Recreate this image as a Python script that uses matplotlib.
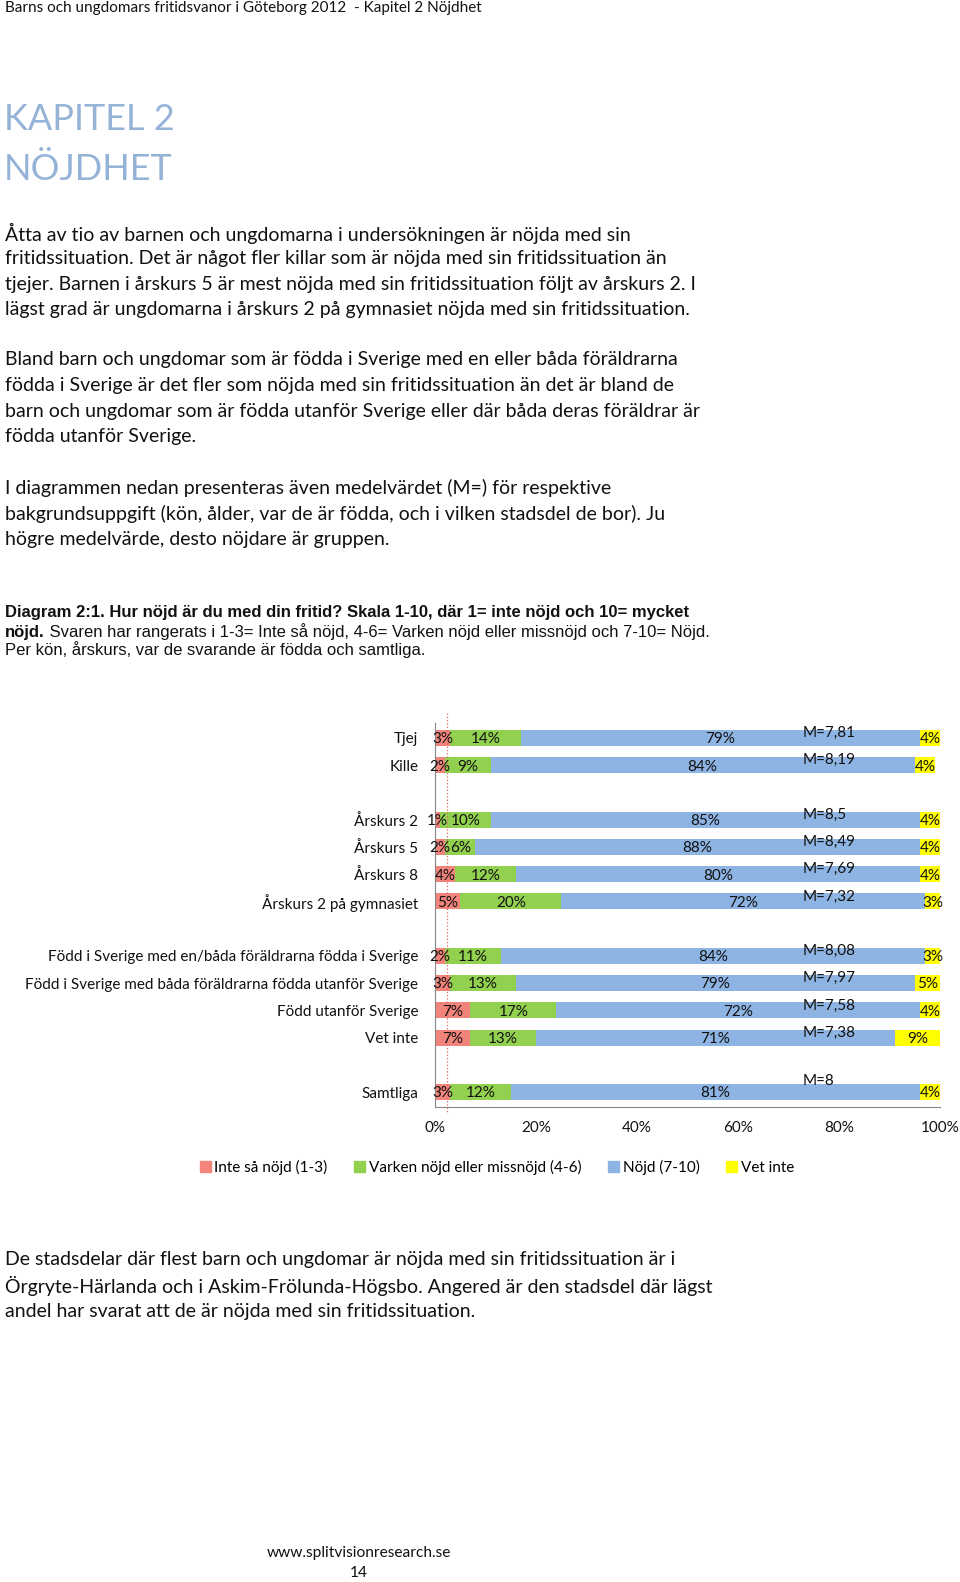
import matplotlib.pyplot as plt
from matplotlib.patches import Patch

W, H = 960, 1582

# chart data
groups = ["Tjej", "Kille", "Årskurs 2", "Årskurs 5", "Årskurs 8", "Årskurs 2 på gymnasiet",
          "Född i Sverige med en/båda föräldrarna födda i Sverige",
          "Född i Sverige med båda föräldrarna födda utanför Sverige",
          "Född utanför Sverige", "Vet inte", "Samtliga"]
block = [0, 0, 1, 1, 1, 1, 2, 2, 2, 2, 3]
inte_nojd = [3, 2, 1, 2, 4, 5, 2, 3, 7, 7, 3]
varken = [14, 9, 10, 6, 12, 20, 11, 13, 17, 13, 12]
nojd = [79, 84, 85, 88, 80, 72, 84, 79, 72, 71, 81]
vet_inte = [4, 4, 4, 4, 4, 3, 3, 5, 4, 9, 4]
medel = ["7,81", "8,19", "8,5", "8,49", "7,69", "7,32", "8,08", "7,97", "7,58", "7,38", "8"]
series_names = ["Inte så nöjd (1-3)", "Varken nöjd eller missnöjd (4-6)", "Nöjd (7-10)", "Vet inte"]
colors = ["#F2847C", "#92D050", "#8EB4E3", "#FFFF00"]
xticks = [0, 20, 40, 60, 80, 100]
ref_line = 2.3

header = "Barns och ungdomars fritidsvanor i Göteborg 2012  - Kapitel 2 Nöjdhet"
title_lines = ["KAPITEL 2", "NÖJDHET"]
para1 = ["Åtta av tio av barnen och ungdomarna i undersökningen är nöjda med sin",
         "fritidssituation. Det är något fler killar som är nöjda med sin fritidssituation än",
         "tjejer. Barnen i årskurs 5 är mest nöjda med sin fritidssituation följt av årskurs 2. I",
         "lägst grad är ungdomarna i årskurs 2 på gymnasiet nöjda med sin fritidssituation."]
para2 = ["Bland barn och ungdomar som är födda i Sverige med en eller båda föräldrarna",
         "födda i Sverige är det fler som nöjda med sin fritidssituation än det är bland de",
         "barn och ungdomar som är födda utanför Sverige eller där båda deras föräldrar är",
         "födda utanför Sverige."]
para3 = ["I diagrammen nedan presenteras även medelvärdet (M=) för respektive",
         "bakgrundsuppgift (kön, ålder, var de är födda, och i vilken stadsdel de bor). Ju",
         "högre medelvärde, desto nöjdare är gruppen."]
para4 = ["De stadsdelar där flest barn och ungdomar är nöjda med sin fritidssituation är i",
         "Örgryte-Härlanda och i Askim-Frölunda-Högsbo. Angered är den stadsdel där lägst",
         "andel har svarat att de är nöjda med sin fritidssituation."]

FONT = "Lato"
TXT = "#111111"
plt.rcParams["font.family"] = [FONT, "DejaVu Sans"]

fig = plt.figure(figsize=(W / 100, H / 100), dpi=100)


def put(x, y, s, **kw):
    # place text using pixel coords from the top-left of the page
    kw.setdefault("color", TXT)
    kw.setdefault("va", "center")
    return fig.text(x / W, 1 - y / H, s, **kw)


put(5, 8, header, fontsize=11)
put(4, 119, title_lines[0], fontsize=26, color="#95B3D7")
put(4, 169, title_lines[1], fontsize=26, color="#95B3D7")

for lines, y0 in [(para1, 233), (para2, 360), (para3, 488), (para4, 1260)]:
    for i, line in enumerate(lines):
        put(5, y0 + i * 25.6, line, fontsize=14)

# caption in Arial-like font
cap = dict(family="Liberation Sans", fontsize=12)
put(5, 612, "Diagram 2:1. Hur nöjd är du med din fritid? Skala 1-10, där 1= inte nöjd och 10= mycket",
    fontweight="bold", **cap)
t = put(5, 632, "nöjd.", fontweight="bold", **cap)
fig.canvas.draw()
bb = t.get_window_extent()
put(bb.x1, 632, " Svaren har rangerats i 1-3= Inte så nöjd, 4-6= Varken nöjd eller missnöjd och 7-10= Nöjd.", **cap)
put(5, 650, "Per kön, årskurs, var de svarande är födda och samtliga.", **cap)

# chart
ax = fig.add_axes([435 / W, 1 - 1107 / H, 505 / W, 384 / H])
pos = [i + b for i, b in enumerate(block)]
left = [0] * len(groups)
for name, vals, c in zip(series_names, [inte_nojd, varken, nojd, vet_inte], colors):
    ax.barh(pos, vals, left=left, height=0.59, color=c, label=name)
    for p, l, v in zip(pos, left, vals):
        ax.text(l + v / 2, p + 0.05, f"{v}%", ha="center", va="center", fontsize=11, color=TXT)
    left = [a + b for a, b in zip(left, vals)]

for p, m, g in zip(pos, medel, groups):
    off = 0.42 if g == "Samtliga" else 0.18
    ax.text(72.7, p - off, f"M={m}", ha="left", va="center", fontsize=11, color=TXT)

ax.plot([ref_line, ref_line], [-0.9, 13.75], color="#E06666", ls=":", lw=0.9, clip_on=False)

ax.set_xlim(0, 100)
ax.set_ylim(13.55, -0.55)
ax.set_xticks(xticks, [f"{v}%" for v in xticks])
ax.set_yticks(pos, groups)
ax.tick_params(length=0, labelsize=11, labelcolor=TXT)
ax.tick_params(axis="x", pad=10)
ax.tick_params(axis="y", pad=12)
for s in ["top", "right"]:
    ax.spines[s].set_visible(False)
for s in ["left", "bottom"]:
    ax.spines[s].set_color("#868686")

handles = [Patch(color=c, label=n) for c, n in zip(colors, series_names)]
fig.legend(handles=handles, loc="center", bbox_to_anchor=(497 / W, 1 - 1167 / H), ncol=4,
           frameon=False, fontsize=11, handlelength=0.7, handleheight=0.7,
           handletextpad=0.25, columnspacing=1.75)

put(359, 1553, "www.splitvisionresearch.se", fontsize=11.2, ha="center")
put(359, 1573, "14", fontsize=11.2, ha="center")

fig.savefig("out.png", dpi=100)
